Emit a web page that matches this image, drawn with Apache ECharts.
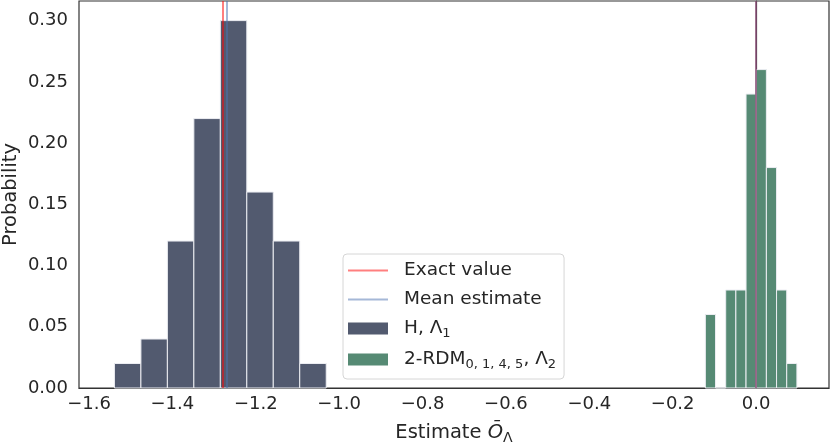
<!DOCTYPE html>
<html>
<head>
<meta charset="utf-8">
<script src="https://cdn.jsdelivr.net/npm/echarts@6/dist/echarts.min.js"></script>
<style>
  html, body { margin: 0; padding: 0; background: #fff; }
  #chart { width: 831px; height: 446px; }
</style>
</head>
<body>
<div id="chart"></div>
<script>
// histogram of H, Lambda_1 (bin edges + probability per bin)
const hEdges = [-1.539, -1.4755, -1.412, -1.3485, -1.285, -1.2215, -1.158, -1.0945, -1.031];
const hProbs = [0.02, 0.04, 0.12, 0.22, 0.30, 0.16, 0.12, 0.02];
// histogram of 2-RDM, Lambda_2
const rdmEdges = [-0.1216, -0.0972, -0.0728, -0.0484, -0.024, 0.0004, 0.0248, 0.0492, 0.0736, 0.098];
const rdmProbs = [0.06, 0, 0.08, 0.08, 0.24, 0.26, 0.18, 0.08, 0.02];
// vertical reference lines (H, 2-RDM)
const exactValues = [-1.280, 0.0];
const meanValues = [-1.266, 0.001];
const xTicks = [-1.6, -1.4, -1.2, -1.0, -0.8, -0.6, -0.4, -0.2, 0.0];
const yTicks = [0, 0.05, 0.10, 0.15, 0.20, 0.25, 0.30];

const FONT = "DejaVu Sans";
const RED = "rgba(255, 0, 0, 0.5)";
const BLUE = "rgba(76, 114, 176, 0.5)";
const LINE_ICON = "path://M0,0H40V2H0Z";
const toBins = (edges, probs) => probs.map((p, i) => [edges[i], edges[i + 1], p]);

const renderBar = (params, api) => {
    const p0 = api.coord([api.value(0), api.value(2)]);
    const p1 = api.coord([api.value(1), 0]);
    return {
        type: "rect",
        shape: { x: p0[0], y: p0[1], width: p1[0] - p0[0], height: p1[1] - p0[1] },
        style: { fill: api.visual("color"), stroke: "#ecedf2", lineWidth: 1 }
    };
};

const vline = (name, values, color) => ({
    type: "line",
    name: name,
    data: [],
    symbol: "none",
    color: color,
    lineStyle: { color: color, width: 2 },
    markLine: {
        silent: true,
        symbol: "none",
        label: { show: false },
        lineStyle: { color: color, width: 2, type: "solid" },
        data: values.map(v => ({ xAxis: v }))
    },
    z: 5
});

const chart = echarts.init(document.getElementById("chart"), null, { renderer: "canvas" });
const option = {
    animation: false,
    textStyle: { fontFamily: FONT, color: "#262626" },
    grid: {
        left: 79, right: 2, top: 1, bottom: 58,
        outerBoundsMode: "none",
        containLabel: false,
        show: true, borderColor: "#333", borderWidth: 1.2, backgroundColor: "#fff"
    },
    legend: {
        orient: "vertical",
        left: 343, top: 254,
        padding: [7, 8, 8, 5],
        itemGap: 10,
        itemWidth: 40,
        itemHeight: 12,
        backgroundColor: "#fff",
        borderColor: "#d6d6d6",
        borderWidth: 1,
        borderRadius: 4,
        data: [
            { name: "Exact value", icon: LINE_ICON, itemStyle: { color: RED } },
            { name: "Mean estimate", icon: LINE_ICON, itemStyle: { color: BLUE } },
            { name: "H", icon: "rect" },
            { name: "2-RDM", icon: "rect" }
        ],
        formatter: name => ({
            "Exact value": "Exact value",
            "Mean estimate": "Mean estimate",
            "H": "H, Λ{sub|1}",
            "2-RDM": "2-RDM{sub|0, 1, 4, 5}, Λ{sub|2}"
        })[name],
        textStyle: {
            fontFamily: FONT, fontSize: 18.5, color: "#262626",
            padding: [0, 0, 0, 11],
            rich: {
                sub: { fontFamily: FONT, fontSize: 13, color: "#262626", padding: [10, 0, 0, 0] }
            }
        }
    },
    xAxis: {
        type: "value",
        min: -1.624, max: 0.175,
        name: "Estimate {o|Ō}{sub|Λ}",
        nameLocation: "middle",
        nameGap: 33,
        nameMoveOverlap: false,
        nameTextStyle: {
            fontFamily: FONT, fontSize: 19.5, color: "#262626",
            rich: {
                o: { fontFamily: FONT, fontSize: 19.5, fontStyle: "italic", color: "#262626" },
                sub: { fontFamily: FONT, fontSize: 14, color: "#262626", padding: [10, 0, 0, 0] }
            }
        },
        axisLine: { show: true, lineStyle: { color: "#333", width: 1.2 } },
        axisTick: { show: false },
        splitLine: { show: false },
        axisLabel: {
            customValues: xTicks,
            margin: 7,
            fontFamily: FONT, fontSize: 18, color: "#262626",
            formatter: v => (v < 0 ? "\u2212" : "") + Math.abs(v).toFixed(1)
        }
    },
    yAxis: {
        type: "value",
        min: 0, max: 0.316,
        name: "Probability",
        nameLocation: "middle",
        nameGap: 58,
        nameMoveOverlap: false,
        nameTextStyle: { fontFamily: FONT, fontSize: 19.5, color: "#262626" },
        axisLine: { show: true, lineStyle: { color: "#333", width: 1.2 } },
        axisTick: { show: false },
        splitLine: { show: false },
        axisLabel: {
            customValues: yTicks,
            margin: 11,
            fontFamily: FONT, fontSize: 18, color: "#262626",
            formatter: v => v.toFixed(2)
        }
    },
    series: [
        vline("Exact value", exactValues, RED),
        vline("Mean estimate", meanValues, BLUE),
        {
            type: "custom",
            name: "H",
            color: "#525a6f",
            renderItem: renderBar,
            encode: { x: [0, 1], y: 2 },
            data: toBins(hEdges, hProbs),
            z: 2
        },
        {
            type: "custom",
            name: "2-RDM",
            color: "#568a74",
            renderItem: renderBar,
            encode: { x: [0, 1], y: 2 },
            data: toBins(rdmEdges, rdmProbs),
            z: 2
        }
    ]
};
chart.setOption(option);
</script>
</body>
</html>
